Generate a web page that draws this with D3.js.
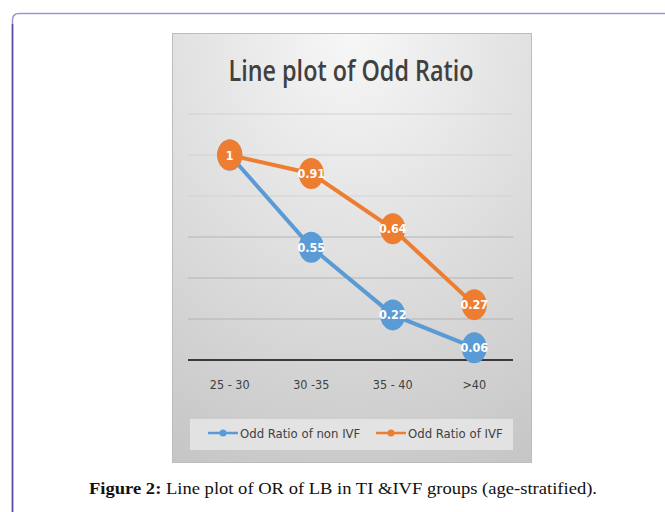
<!DOCTYPE html>
<html>
<head>
  <meta charset="utf-8"/>
  <title>Line plot of Odd Ratio</title>
  <style>
    body { margin: 0; background: #fff; }
    svg { display: block; }
  </style>
  <script src="https://d3js.org/d3.v7.min.js"></script>
</head>
<body>
<div id="my_dataviz"></div>
<script>
// data
var ageGroups = ["25 - 30", "30 -35", "35 - 40", ">40"]
var nonIVF = [1, 0.55, 0.22, 0.06]
var IVF = [1, 0.91, 0.64, 0.27]
var seriesNames = ["Odd Ratio of non IVF", "Odd Ratio of IVF"]
var yTicks = [0, 0.2, 0.4, 0.6, 0.8, 1, 1.2]

var W = 665, H = 512
var blue = "#5b9bd5", orange = "#ed7d31"
var narrow = "'DejaVu Sans Condensed', Lato, sans-serif"

var svg = d3.select("#my_dataviz").append("svg")
  .attr("width", W).attr("height", H)

// outer page frame (rounded corner top-left)
svg.append("path")
  .attr("d", "M12.5,512 L12.5,20 Q12.5,13.5 19,13.5 L665,13.5")
  .attr("fill", "none")
  .attr("stroke", "#9c98c6")
  .attr("stroke-width", 1.5)
svg.append("line")
  .attr("x1", 12.5).attr("x2", 12.5).attr("y1", 24).attr("y2", 512)
  .attr("stroke", "#5a4ea0").attr("stroke-width", 1.6)

// chart background gradient
var defs = svg.append("defs")
var grad = defs.append("radialGradient")
  .attr("id", "bg").attr("cx", "50%").attr("cy", "0%").attr("r", "110%")
  .attr("fx", "50%").attr("fy", "0%")
grad.append("stop").attr("offset", "0%").attr("stop-color", "#f7f7f7")
grad.append("stop").attr("offset", "100%").attr("stop-color", "#c6c6c6")

svg.append("rect")
  .attr("x", 172.5).attr("y", 33.5).attr("width", 359).attr("height", 429)
  .attr("fill", "url(#bg)")
  .attr("stroke", "#bdbdbd")

// title
svg.append("text")
  .attr("x", 351).attr("y", 81)
  .attr("text-anchor", "middle")
  .attr("font-family", "'Open Sans', sans-serif")
  .attr("font-weight", 600)
  .attr("font-size", 28)
  .attr("textLength", 245).attr("lengthAdjust", "spacingAndGlyphs")
  .attr("fill", "#404040")
  .text("Line plot of Odd Ratio")

// scales
var x = d3.scaleBand().domain(ageGroups).range([189, 515])
var y = d3.scaleLinear().domain([0, 1.2]).range([360, 114])
var cx = function(d, i) { return x(ageGroups[i]) + x.bandwidth() / 2 }

// gridlines
svg.append("g")
  .selectAll("line")
  .data(yTicks.slice(1))
  .join("line")
  .attr("x1", 188).attr("x2", 513)
  .attr("y1", function(d) { return y(d) }).attr("y2", function(d) { return y(d) })
  .attr("stroke", function(d) { return d > 0.7 ? "#d2d2d2" : "#b4b4b4" })
  .attr("stroke-width", 1.2)

// x axis
var xAxis = svg.append("g")
  .attr("transform", "translate(0," + y(0) + ")")
  .call(d3.axisBottom(x).tickSize(0).tickPadding(20))
xAxis.select(".domain").attr("d", "M188,0H513").attr("stroke", "#3a3a3a").attr("stroke-width", 2)
xAxis.selectAll("text")
  .attr("font-family", narrow)
  .attr("font-size", 12.5)
  .attr("fill", "#404040")

// lines and markers
function drawSeries(vals, color) {
  var line = d3.line()
    .x(function(d, i) { return cx(d, i) })
    .y(function(d) { return y(d) })
  svg.append("path")
    .datum(vals)
    .attr("d", line)
    .attr("fill", "none")
    .attr("stroke", color)
    .attr("stroke-width", 4)
  var g = svg.append("g")
  g.selectAll("ellipse")
    .data(vals)
    .join("ellipse")
    .attr("cx", cx)
    .attr("cy", function(d) { return y(d) })
    .attr("rx", 12.5).attr("ry", 15.5)
    .attr("fill", color)
  g.selectAll("text")
    .data(vals)
    .join("text")
    .attr("x", cx)
    .attr("y", function(d) { return y(d) + 4.5 })
    .attr("text-anchor", "middle")
    .attr("font-family", narrow)
    .attr("font-weight", "bold")
    .attr("font-size", 12.5)
    .attr("fill", "#fff")
    .text(function(d) { return d })
}
drawSeries(nonIVF, blue)
drawSeries(IVF, orange)

// legend
svg.append("rect")
  .attr("x", 190).attr("y", 419).attr("width", 323).attr("height", 31)
  .attr("fill", "#e6e6e6").attr("opacity", 0.85)

var legendX = [208, 376]
var colors = [blue, orange]
var leg = svg.append("g").selectAll("g")
  .data(seriesNames)
  .join("g")
  .attr("transform", function(d, i) { return "translate(" + legendX[i] + ",433)" })
leg.append("line")
  .attr("x1", 0).attr("x2", 30)
  .attr("stroke", function(d, i) { return colors[i] })
  .attr("stroke-width", 2.5)
leg.append("circle")
  .attr("cx", 15).attr("r", 3.5)
  .attr("fill", function(d, i) { return colors[i] })
leg.append("text")
  .attr("x", 32).attr("y", 4.5)
  .attr("font-family", narrow)
  .attr("font-size", 13)
  .attr("fill", "#404040")
  .text(function(d) { return d })

// caption
var cap = svg.append("text")
  .attr("x", 89).attr("y", 494)
  .attr("font-family", "'Liberation Serif', 'Times New Roman', serif")
  .attr("font-size", 17.5)
  .attr("textLength", 508).attr("lengthAdjust", "spacingAndGlyphs")
  .attr("fill", "#111")
cap.append("tspan").attr("font-weight", "bold").text("Figure 2:")
cap.append("tspan").text(" Line plot of OR of LB in TI &IVF groups (age-stratified).")
</script>
</body>
</html>
